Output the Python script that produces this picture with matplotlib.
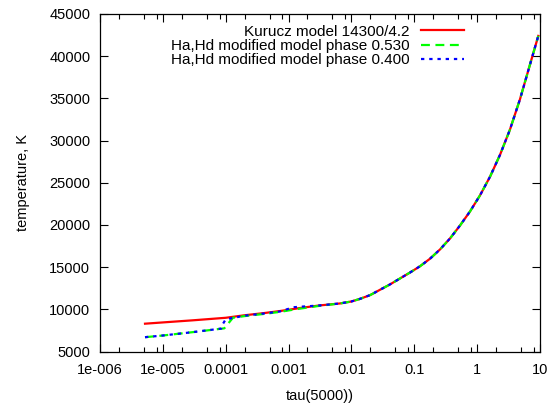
import matplotlib
matplotlib.use('Agg')
import matplotlib.pyplot as plt
from matplotlib.ticker import LogLocator, FixedLocator, NullFormatter

plt.rcParams['font.family'] = ['Liberation Sans', 'DejaVu Sans']

# upper atmosphere, tau(5000) above 6e-3, shared by all three models
tau_deep = [6.6e-3, 1e-2, 1.38e-2, 0.02, 0.0282, 0.041, 0.059, 0.085, 0.123, 0.178,
            0.257, 0.37, 0.53, 0.77, 1.11, 1.6, 2.31, 3.33, 4.81, 6.93, 9.4]
temp_deep = [10700, 10930, 11250, 11700, 12300, 12950, 13650, 14350, 15100, 16000,
             17100, 18400, 19900, 21600, 23500, 25700, 28300, 31300, 34900, 39000, 42400]

# Kurucz model 14300/4.2
tau_kurucz = [5.2e-6, 1e-5, 3e-5, 1e-4, 2e-4, 4e-4, 7.3e-4, 1e-3, 1.5e-3, 3e-3] + tau_deep
temp_kurucz = [8300, 8450, 8700, 9000, 9300, 9550, 9800, 9950, 10150, 10450] + temp_deep

# Ha,Hd modified model phase 0.530
tau_p530 = [5.2e-6, 1e-5, 3e-5, 9.5e-5, 1.3e-4, 2e-4, 4e-4, 7.3e-4, 1e-3, 1.5e-3, 3e-3] + tau_deep
temp_p530 = [6700, 6900, 7300, 7750, 9000, 9200, 9450, 9700, 9870, 10080, 10400] + temp_deep

# Ha,Hd modified model phase 0.400
tau_p400 = [5.2e-6, 1e-5, 3e-5, 8.5e-5, 9.0e-5, 1.0e-4, 2e-4, 4e-4, 7.3e-4, 1.2e-3, 1.7e-3,
            3e-3] + tau_deep
temp_p400 = [6700, 6900, 7300, 7720, 8260, 8815, 9250, 9500, 9750, 10250, 10330,
             10450] + temp_deep

fig = plt.figure(figsize=(5.51, 4.05), dpi=100)
ax = fig.add_axes([0.1815, 0.132, 0.7985, 0.8335])

ax.plot(tau_kurucz, temp_kurucz, color='#ff0000', lw=1.6, label='Kurucz model 14300/4.2')
ax.plot(tau_p530, temp_p530, color='#00ff00', lw=1.6, dashes=(4, 2.5),
        label='Ha,Hd modified model phase 0.530')
ax.plot(tau_p400, temp_p400, color='#0000ff', lw=1.6, dashes=(1.5, 2.2),
        label='Ha,Hd modified model phase 0.400')

ax.set_xscale('log')
ax.set_xlim(1e-6, 10)
ax.set_ylim(5000, 45000)
ax.xaxis.set_minor_locator(LogLocator(base=10, subs=[2, 5, 8], numticks=20))
ax.xaxis.set_minor_formatter(NullFormatter())
ax.set_xticks([1e-6, 1e-5, 1e-4, 1e-3, 1e-2, 0.1, 1, 10])
ax.set_xticklabels(['1e-006', '1e-005', '0.0001', '0.001', '0.01', '0.1', '1', '10'])
ax.yaxis.set_major_locator(FixedLocator(range(5000, 45001, 5000)))

ax.tick_params(which='both', direction='in', top=True, right=True, labelsize=10.5, width=0.8)
ax.tick_params(which='major', length=6)
ax.tick_params(axis='x', which='major', pad=8)
ax.tick_params(axis='y', which='major', pad=7)
ax.tick_params(which='minor', length=3.5)
for s in ax.spines.values():
    s.set_linewidth(0.9)

ax.set_xlabel('tau(5000))', fontsize=10.5, labelpad=9)
ax.set_ylabel('temperature, K', fontsize=10.5, labelpad=14)

ax.legend(loc='upper right', bbox_to_anchor=(0.852, 1.0), frameon=False, markerfirst=False,
          fontsize=11, handlelength=2.8, handletextpad=0.78, labelspacing=0.02, borderpad=0.2)

fig.savefig('out.png', dpi=100)
